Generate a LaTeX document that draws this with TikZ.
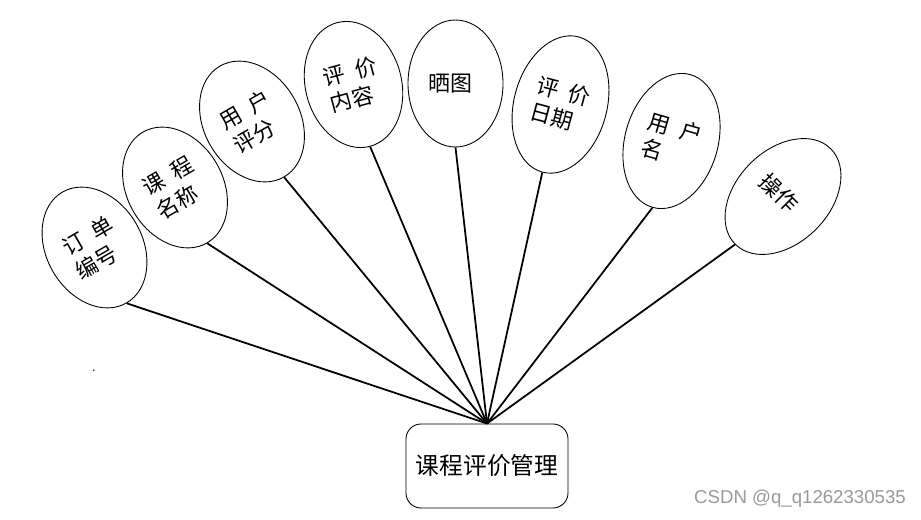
\documentclass[tikz,border=0pt]{standalone}
\usepackage{fontspec}
\newfontfamily\cjk{Noto Sans CJK SC}
\newfontfamily\wmfont{Liberation Sans}
\usetikzlibrary{shapes.geometric}

\begin{document}
\begin{tikzpicture}
      \useasboundingbox (0,0) rectangle (18.42,10.38);
      \begin{scope}[every node/.style={ellipse,draw,line width=0.5pt,inner sep=0pt,
          minimum width=1.92cm,minimum height=2.56cm,text width=3.1em,align=left,
          font=\cjk\fontsize{12.5}{15.5}\selectfont}]
        \node[rotate=30] (order) at (1.89,5.43) {订\hfill 单\\编号};
        \node[rotate=30] (course) at (3.50,6.63) {课\hfill 程\\名称};
        \node[rotate=30] (score) at (5.04,7.95) {用\hfill 户\\评分};
        \node[rotate=15] (content) at (7.07,8.69) {评\hfill 价\\内容};
        \node[minimum width=1.90cm,minimum height=2.54cm] (photo) at (9.11,8.71) {晒图};
        \node[rotate=-15,minimum width=1.86cm,minimum height=2.80cm] (date) at (11.21,8.29) {评\hfill 价\\日期};
        \node[rotate=-16,minimum width=1.86cm,minimum height=2.76cm] (user) at (13.43,7.56) {用\hfill 户\\名};
        \node[rotate=-45,minimum width=1.86cm,minimum height=2.70cm] (oper) at (15.66,6.45) {操作};
      \end{scope}
      \node[draw,line width=0.5pt,rounded corners=0.3cm,minimum width=3.24cm,minimum height=1.68cm,
        font=\cjk\fontsize{13.5}{16}\selectfont] (mgmt) at (9.74,1.06) {课程评价管理};
      \node[inner sep=0pt,font=\fontsize{8}{8}\selectfont] (dot) at (1.88,2.96) {.};
      \node[text=black!40,font=\wmfont\fontsize{10.6}{12}\selectfont] (csdn) at (16.00,0.40) {CSDN @q\_q1262330535};
      \begin{scope}[every edge/.style={draw,line width=1pt}]
        \path (order.south) edge (mgmt.north);
        \path (course.south) edge (mgmt.north);
        \path (score.south) edge (mgmt.north);
        \path (content.south) edge (mgmt.north);
        \path (photo.south) edge (mgmt.north);
        \path (date.south) edge (mgmt.north);
        \path (user.south) edge (mgmt.north);
        \path (oper.south) edge (mgmt.north);
      \end{scope}
    \end{tikzpicture}
\end{document}
